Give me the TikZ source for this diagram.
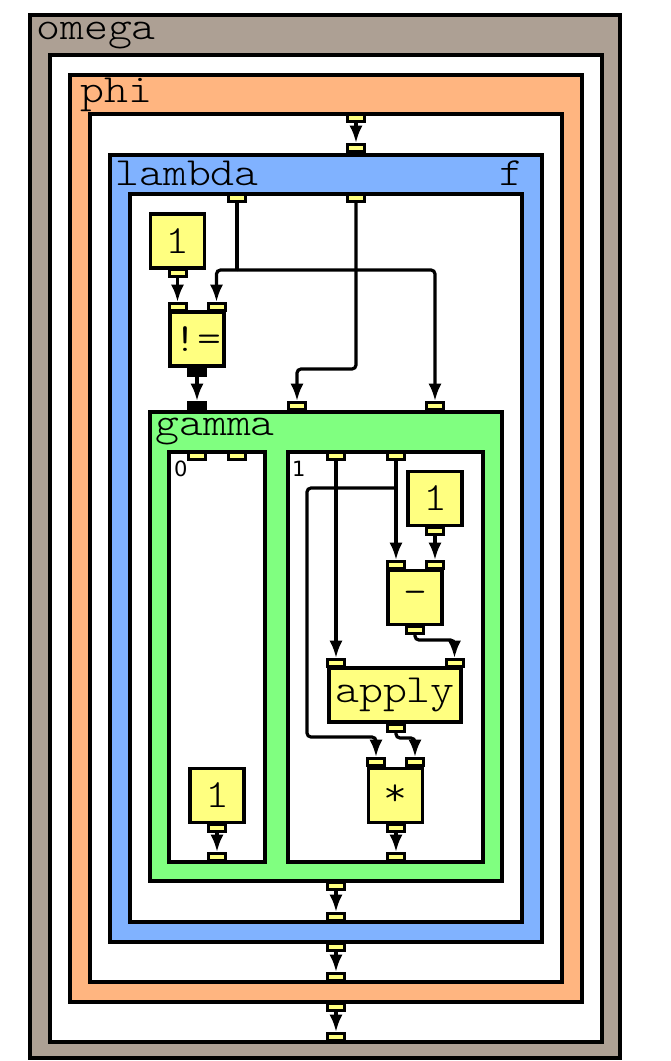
\documentclass[tikz,border=0pt]{standalone}
\usepackage{fontspec}
\setmonofont{lmmonolt10-regular}[Extension=.otf, FakeStretch=1.14]
\newfontfamily\casefont{DejaVu Sans}
\usetikzlibrary{arrows.meta, positioning}

\definecolor{omegafill}{RGB}{173,160,148}
\definecolor{phifill}{RGB}{255,181,128}
\definecolor{lambdafill}{RGB}{128,178,255}
\definecolor{gammafill}{RGB}{128,255,128}
\definecolor{opyellow}{RGB}{255,255,128}

\newcommand{\bigtt}{\ttfamily\fontsize{40}{40}\selectfont}

\tikzset{
  frame/.style={draw, line width=3.5pt},
  port/.style={draw, line width=3pt, fill=opyellow, minimum width=17pt, minimum height=7pt, inner sep=0pt},
  bport/.style={port, fill=black},
  opnode/.style={draw, line width=3.5pt, fill=opyellow, font=\bigtt, minimum width=54pt, minimum height=54pt, inner sep=0pt},
  flow/.style={-Latex, draw, line width=3.2pt, rounded corners=4pt},
  flowline/.style={draw, line width=3.2pt, rounded corners=4pt},
  title/.style={font=\bigtt, anchor=base west, inner sep=0pt},
  caselabel/.style={font=\casefont\fontsize{21}{21}\selectfont, anchor=base west, inner sep=0pt}
}

\begin{document}
\begin{tikzpicture}[x=1pt, y=-1pt]
  \useasboundingbox (0,0) rectangle (670,1061);

  % Regions
  \draw[frame, fill=omegafill] (30,15) rectangle (620,1058);
  \draw[frame, fill=white] (50,55) rectangle (602,1042);
  \draw[frame, fill=phifill] (70,75) rectangle (582,1002);
  \draw[frame, fill=white] (90,114) rectangle (562,982);
  \draw[frame, fill=lambdafill] (110,155) rectangle (542,942);
  \draw[frame, fill=white] (130,194) rectangle (522,922);
  \draw[frame, fill=gammafill] (150,412) rectangle (502,881);
  \draw[frame, fill=white] (169,452) rectangle (265,862);
  \draw[frame, fill=white] (288,452) rectangle (483,862);

  % Titles
  \node[title] (tomega) at (36,39) {omega};
  \node[title] (tphi) at (80,102) {phi};
  \node[title] (tlambda) at (115,185) {lambda};
  \node[title, anchor=base east] (tf) at (524,185) {f};
  \node[title] (tgamma) at (155,435) {gamma};
  \node[caselabel] (tcase0) at (174,476) {0};
  \node[caselabel] (tcase1) at (292,476) {1};

  % Operations
  \node[opnode] (onea) at (177.5,241) {1};
  \node[opnode] (ne) at (197,339) {!=};
  \node[opnode] (oneb) at (217,795.5) {1};
  \node[opnode] (onec) at (435,498.5) {1};
  \node[opnode] (sub) at (415,597.5) {-};
  \node[opnode, minimum width=132pt] (app) at (395,695) {apply};
  \node[opnode] (mul) at (395.5,795.5) {*};

  % Ports
  \node[port] (phitop) at (356,118) {};
  \node[port] (lamtop) at (356,148) {};
  \node[port] (lamina) at (237,198) {};
  \node[port] (laminb) at (356,198) {};
  \node[port] (oneao) at (177.5,273) {};
  \node[port] (neina) at (177.5,307) {};
  \node[port] (neinb) at (216.5,307) {};
  \node[bport] (neo) at (197,372) {};
  \node[bport] (gamina) at (197,406) {};
  \node[port] (gaminb) at (297,406) {};
  \node[port] (gaminc) at (435,406) {};
  \node[port] (gzina) at (197,456) {};
  \node[port] (gzinb) at (237,456) {};
  \node[port] (gaina) at (336,456) {};
  \node[port] (gainb) at (396,456) {};
  \node[port] (oneco) at (435,531) {};
  \node[port] (subina) at (396,565) {};
  \node[port] (subinb) at (435,565) {};
  \node[port] (subo) at (415,630) {};
  \node[port] (appina) at (336,663) {};
  \node[port] (appinb) at (454.5,663) {};
  \node[port] (appo) at (396,728) {};
  \node[port] (mulina) at (376,762) {};
  \node[port] (mulinb) at (415,762) {};
  \node[port] (mulo) at (396,828) {};
  \node[port] (onebo) at (217,828) {};
  \node[port] (gzo) at (217,857) {};
  \node[port] (gao) at (396,857) {};
  \node[port] (gamo) at (336,886) {};
  \node[port] (lamino) at (336,917) {};
  \node[port] (lamo) at (336,947) {};
  \node[port] (phino) at (336,977) {};
  \node[port] (phio) at (336,1007) {};
  \node[port] (omino) at (336,1037) {};

  % Bends
  \coordinate (fork) at (237,270);
  \coordinate (bendb) at (356,369);
  \coordinate (split) at (396,488);
  \coordinate (loop) at (307,737);

  % Wires
  \path[flow] (phitop.south) -- (lamtop.north);
  \path[flowline] (lamina.south) -- (fork);
  \path[flow] (fork) -| (neinb.north);
  \path[flow] (fork) -| (gaminc.north);
  \path[flow] (laminb.south) -- (bendb) -| (gaminb.north);
  \path[flow] (oneao.south) -- (neina.north);
  \path[flow] (neo.south) -- (gamina.north);
  \path[flow] (gaina.south) -- (appina.north);
  \path[flow] (gainb.south) -- (subina.north);
  \path[flow] (split) -| (loop) -| (mulina.north);
  \path[flow] (oneco.south) -- (subinb.north);
  \path[flow] (subo.south) -- ++(0,5) -| (appinb.north);
  \path[flow] (appo.south) -- ++(0,5) -| (mulinb.north);
  \path[flow] (mulo.south) -- (gao.north);
  \path[flow] (onebo.south) -- (gzo.north);
  \path[flow] (gamo.south) -- (lamino.north);
  \path[flow] (lamo.south) -- (phino.north);
  \path[flow] (phio.south) -- (omino.north);
\end{tikzpicture}
\end{document}
